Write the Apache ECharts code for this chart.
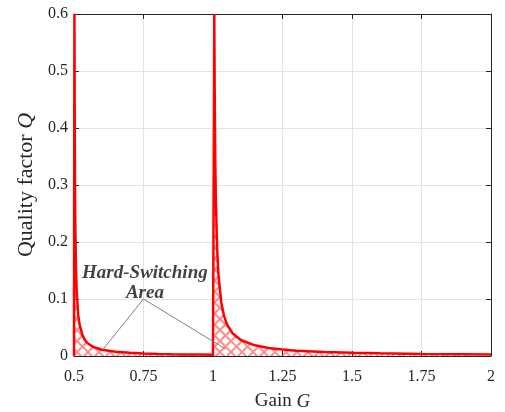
<!DOCTYPE html>
<html><head><meta charset="utf-8">
<script src="https://cdn.jsdelivr.net/npm/echarts@6/dist/echarts.min.js"></script>
<style>html,body{margin:0;padding:0;background:#fff}#c{width:505px;height:412px}</style>
</head><body><div id="c"></div>
<script>
// Gain G (x), Quality factor Q (y)
const leftCurve = [
  [0.5, 0], [0.5015, 0.6], [0.502, 0.52], [0.503, 0.36], [0.504, 0.27], [0.505, 0.22],
  [0.507, 0.157], [0.51, 0.11], [0.515, 0.073], [0.52, 0.055], [0.53, 0.037],
  [0.54, 0.0275], [0.55, 0.022], [0.57, 0.0157], [0.6, 0.011], [0.65, 0.0073],
  [0.7, 0.0055], [0.75, 0.0044], [0.8, 0.0037], [0.85, 0.0031], [0.9, 0.0028],
  [0.95, 0.0025], [1.0, 0.0022]
];
const rightCurve = [
  [1.0, 0], [1.0047, 0.6], [1.005, 0.56], [1.006, 0.47], [1.008, 0.35], [1.01, 0.28],
  [1.015, 0.187], [1.02, 0.14], [1.03, 0.093], [1.04, 0.07], [1.05, 0.056],
  [1.07, 0.04], [1.1, 0.028], [1.15, 0.0187], [1.2, 0.014], [1.25, 0.0112],
  [1.3, 0.0093], [1.4, 0.007], [1.5, 0.0056], [1.6, 0.0047], [1.75, 0.0037],
  [1.9, 0.0031], [2.0, 0.0028]
];
const pointerLines = [[0.605, 0.012], [0.75, 0.1], [1.046, 0.012]];
const annotLines = [
  {text: 'Hard-Switching', pos: [0.755, 0.145]},
  {text: 'Area', pos: [0.755, 0.111]}
];
const xMin = 0.5, xMax = 2, xStep = 0.25;
const yMin = 0, yMax = 0.6, yStep = 0.1;

const FONT = '"Liberation Serif", "Times New Roman", serif';

function hatch() {
  const s = 11;
  const c = document.createElement('canvas');
  c.width = s; c.height = s;
  const g = c.getContext('2d');
  g.strokeStyle = 'rgba(255,50,50,0.55)';
  g.lineWidth = 2;
  g.beginPath();
  g.moveTo(-1, -1); g.lineTo(s + 1, s + 1);
  g.moveTo(s + 1, -1); g.lineTo(-1, s + 1);
  g.stroke();
  return c;
}
const pattern = {image: hatch(), repeat: 'repeat'};

const chart = echarts.init(document.getElementById('c'), null, {renderer: 'canvas'});
const axisCommon = {
  axisLine: {show: true, onZero: false, lineStyle: {color: '#262626', width: 1}},
  axisTick: {show: true, inside: true, length: 5, lineStyle: {color: '#262626'}},
};
chart.setOption({
  animation: false,
  grid: {left: 74, right: 14, top: 14, bottom: 56, containLabel: false, outerBoundsMode: 'none'},
  xAxis: [{
    type: 'value', min: xMin, max: xMax, interval: xStep,
    ...axisCommon,
    axisLabel: {color: '#262626', fontFamily: FONT, fontSize: 16, margin: 13},
    splitLine: {show: true, lineStyle: {color: '#e3e3e3', width: 1}},
    name: '{n|Gain }{i|G}', nameLocation: 'middle', nameGap: 36,
    nameTextStyle: {rich: {
      n: {fontFamily: FONT, fontSize: 19, color: '#262626'},
      i: {fontFamily: FONT, fontSize: 19, fontStyle: 'italic', color: '#262626'}
    }}
  }, {
    type: 'value', position: 'top', min: xMin, max: xMax, interval: xStep,
    ...axisCommon, axisLabel: {show: false}, splitLine: {show: false}
  }],
  yAxis: [{
    type: 'value', min: yMin, max: yMax, interval: yStep,
    ...axisCommon,
    axisLabel: {color: '#262626', fontFamily: FONT, fontSize: 16, margin: 6},
    splitLine: {show: true, lineStyle: {color: '#e3e3e3', width: 1}},
    name: '{n|Quality factor }{i|Q}', nameLocation: 'middle', nameGap: 35,
    nameTextStyle: {rich: {
      n: {fontFamily: FONT, fontSize: 22, color: '#262626'},
      i: {fontFamily: FONT, fontSize: 22, fontStyle: 'italic', color: '#262626'}
    }}
  }, {
    type: 'value', position: 'right', min: yMin, max: yMax, interval: yStep,
    ...axisCommon, axisLabel: {show: false}, splitLine: {show: false}
  }],
  series: [
    {
      type: 'line', data: leftCurve, showSymbol: false, symbol: 'none',
      lineStyle: {color: '#ff0000', width: 2.5},
      areaStyle: {color: pattern, opacity: 1}, z: 3
    },
    {
      type: 'line', data: rightCurve, showSymbol: false, symbol: 'none',
      lineStyle: {color: '#ff0000', width: 2.5},
      areaStyle: {color: pattern, opacity: 1}, z: 3
    },
    {
      type: 'line', data: pointerLines, showSymbol: false, symbol: 'none',
      lineStyle: {color: '#808080', width: 1}, z: 4
    },
    {
      type: 'scatter', symbolSize: 0, z: 5,
      data: annotLines.map(a => ({value: a.pos, name: a.text})),
      label: {
        show: true, position: 'inside', formatter: p => p.name,
        fontFamily: FONT, fontSize: 19, fontWeight: 'bold', fontStyle: 'italic',
        color: '#111'
      }
    }
  ]
});
</script></body></html>
